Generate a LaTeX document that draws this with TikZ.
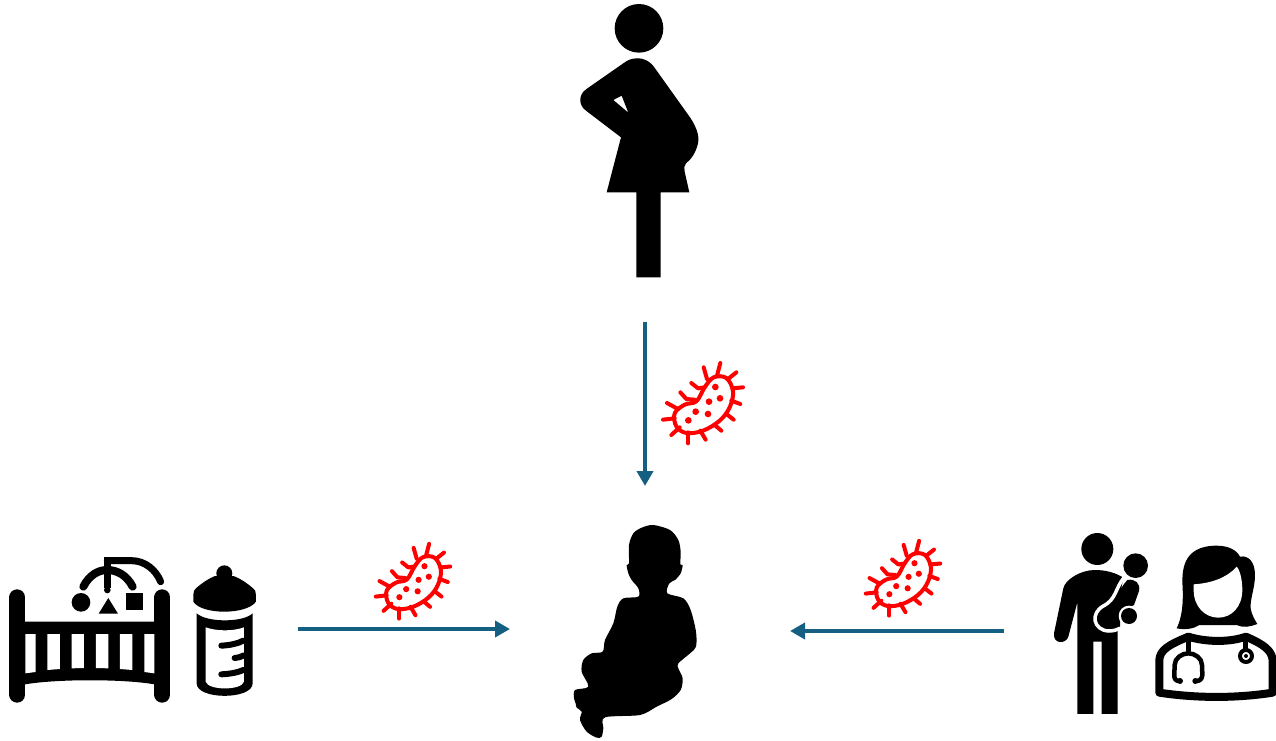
\documentclass[tikz,border=0pt]{standalone}
\usetikzlibrary{arrows.meta}
\definecolor{arrowblue}{HTML}{156082}
\definecolor{germred}{HTML}{FF0000}
\tikzset{
  x=1pt,y=-1pt,
  flow/.style={draw=arrowblue,line width=4pt,-{Triangle[length=15pt,width=16pt]}},
  ink/.style={fill=black,draw=none},
  inkline/.style={draw=black,line cap=round,line join=round},
  blank/.style={fill=white,draw=none},
  germ/.style={draw=germred,line width=4pt,line cap=round,line join=round},
  zoomed/.style={scale=0.3333},
  pics/bacterium/.style={code={
    \draw[germ] plot[smooth cycle,tension=0.6] coordinates {(-85,28)(-55,2)(-20,-8)(5,-50)(32,-80)(70,-78)(90,-38)(80,10)(50,50)(0,80)(-50,87)(-80,67)};
    \foreach \a/\b/\c/\d in {52/-123/42/-85, 2/-110/12/-75, 100/-95/75/-75, 120/-50/88/-47, 112/0/85/-10, 92/47/70/30, 55/80/35/63, 8/107/-8/80, -45/118/-45/85, -95/93/-70/70, -120/47/-85/43, -108/-3/-75/15}
      \draw[germ] (\a,\b) -- (\c,\d);
    \draw[germ] (-68,-35) -- (-50,-15) -- (-25,-13);
    \draw[germ] (-35,-63) -- (-15,-47) -- (5,-50);
    \foreach \a/\b in {37/-51, 51/-17, 18/-7, -22/23, 15/30, -44/49}
      \fill[germred] (\a,\b) circle (10);
  }}
}
\begin{document}
\begin{tikzpicture}
\useasboundingbox (0,0) rectangle (1276,740);
% ---- pregnant woman
\begin{scope}[shift={(560,0)},zoomed]
\fill[ink] (237,85) circle (73);
\fill[ink,even odd rule] (232,175) .. controls (255,175) and (272,185) .. (285,205) -- (385,345)
  .. controls (405,372) and (420,405) .. (414,430) .. controls (408,458) and (392,480) .. (378,490)
  .. controls (372,497) and (372,505) .. (374,515) -- (388,577) -- (302,577) -- (302,832) -- (229,832) -- (229,577) -- (140,577) -- (183,412) -- (78,332)
  .. controls (55,315) and (55,285) .. (78,268) -- (190,190) .. controls (203,180) and (215,175) .. (232,175) -- cycle
  (160,300) -- (185,287) -- (205,338) -- cycle;
\end{scope}
\coordinate (mothertap) at (645,322);
\coordinate (babytop) at (645,486);
% ---- crib
\begin{scope}[shift={(0,540)},zoomed]
\draw[inkline,line width=16pt] (52,172) -- (52,464) (487,172) -- (487,464);
\fill[ink] (52,245) -- (487,245) -- (487,438) .. controls (400,415) and (140,415) .. (52,438) -- cycle;
\foreach \l/\r/\bl/\br in {76/107/400/396, 142/180/390/387, 215/252/385/384, 288/325/384/385, 360/397/387/390, 433/463/396/400}
  \fill[blank] (\l,282) -- (\r,282) -- (\r,\br) -- (\l,\bl) -- cycle;
\draw[inkline,line width=8pt] (250,140) .. controls (268,105) and (295,90) .. (322,90) .. controls (350,90) and (380,105) .. (398,140);
\draw[inkline,line width=6.5pt,line cap=butt] (322,52) -- (322,145);
\fill[ink] (322,150) circle (10);
\draw[inkline,line width=7pt,line cap=round] (322,62) -- (395,62) .. controls (435,62) and (468,90) .. (482,125);
\fill[ink] (243,187) circle (28);
\fill[ink] (296,221) -- (354,221) -- (325,174) -- cycle;
\fill[ink] (379,160) rectangle (428,209);
% bottle
\fill[ink] (673,100) circle (24);
\fill[ink] (645,108) -- (701,108) .. controls (722,116) and (742,130) .. (757,143) .. controls (765,147) and (768,155) .. (768,165) -- (768,185)
  .. controls (740,225) and (605,225) .. (580,185) -- (580,165) .. controls (580,155) and (583,147) .. (590,143) .. controls (605,130) and (625,116) .. (645,108) -- cycle;
\fill[ink] (590,220) .. controls (620,248) and (730,248) .. (758,220) -- (758,430) .. controls (758,480) and (590,480) .. (590,430) -- cycle;
\fill[blank] (617,262) .. controls (650,274) and (700,274) .. (732,262) -- (732,425) .. controls (725,452) and (625,452) .. (617,425) -- cycle;
\draw[inkline,line width=6pt] (664,317) .. controls (690,316) and (715,310) .. (730,302);
\draw[inkline,line width=6pt] (704,354) .. controls (715,353) and (725,350) .. (732,346);
\draw[inkline,line width=6pt] (664,403) .. controls (690,402) and (715,397) .. (730,390);
\end{scope}
\coordinate (cribtap) at (298,629);
\coordinate (babyleft) at (510,629);
% ---- parent with child
\begin{scope}[shift={(1040,525)},zoomed]
\fill[ink] (172,72) circle (48);
\fill[ink] (287,122) circle (37);
\fill[ink] (165,135) .. controls (195,135) and (225,142) .. (250,158) -- (233,250) -- (233,567) -- (185,567) -- (185,350) -- (160,350) -- (160,567) -- (112,567) -- (112,232) -- (85,335)
  .. controls (78,358) and (38,358) .. (42,325) -- (70,190) .. controls (75,165) and (120,135) .. (165,135) -- cycle;
\fill[ink] (262,165) .. controls (285,160) and (302,175) .. (297,198) -- (282,240) -- (240,262) -- (240,305) .. controls (225,312) and (210,312) .. (200,308)
  .. controls (165,295) and (170,262) .. (195,248) .. controls (225,232) and (235,195) .. (262,165) -- cycle;
\draw[white,line width=3.5pt,line cap=round] (252,158) .. controls (225,190) and (230,222) .. (190,243) .. controls (150,265) and (160,315) .. (205,318) .. controls (220,318) and (230,315) .. (240,310);
\fill[white] (267,273) circle (31);
\fill[ink] (267,273) circle (24);
% ---- doctor
\draw[inkline,line width=8pt,fill=white] (358,503) -- (358,405) .. controls (360,375) and (385,360) .. (445,335) .. controls (500,352) and (570,352) .. (618,335) .. controls (670,358) and (695,375) .. (698,405) -- (698,503) .. controls (590,520) and (470,520) .. (358,503) -- cycle;
\fill[ink] (530,62) .. controls (565,62) and (590,75) .. (600,95) .. controls (625,90) and (645,110) .. (645,150) .. controls (645,190) and (630,220) .. (632,250) .. controls (635,270) and (645,285) .. (652,297)
 .. controls (630,305) and (610,310) .. (590,300) -- (478,300) .. controls (460,312) and (435,315) .. (410,310) .. controls (425,280) and (430,240) .. (428,190) .. controls (425,140) and (425,62) .. (530,62) -- cycle;
\fill[blank] (461,178) .. controls (510,175) and (560,160) .. (590,125) .. controls (600,135) and (607,165) .. (607,195) .. controls (607,245) and (575,278) .. (535,278) .. controls (495,278) and (461,245) .. (461,195) -- cycle;
\fill[blank] (490,304) -- (578,304) .. controls (572,318) and (560,322) .. (534,322) .. controls (508,322) and (496,318) .. (490,304) -- cycle;
\draw[black,line width=5pt,line cap=butt] (445,335) -- (445,388);
\draw[black,line width=4.5pt,line cap=round,line join=round] (418,468) .. controls (395,468) and (405,440) .. (404,420) .. controls (404,400) and (425,385) .. (445,385) .. controls (465,385) and (486,400) .. (486,420) .. controls (485,440) and (495,468) .. (468,468);
\fill[ink] (420,468) circle (9) (466,468) circle (9);
\draw[black,line width=5pt,line cap=butt] (618,335) -- (618,375);
\draw[black,line width=4pt,fill=white] (618,393) circle (18);
\fill[ink] (618,393) circle (6);
\end{scope}
\coordinate (caretap) at (1004,631);
\coordinate (babyright) at (790,631);
% ---- baby
\begin{scope}[shift={(560,515)},zoomed]
\fill[ink] plot[smooth cycle,tension=0.5] coordinates {(280,30)(330,45)(355,75)(362,110)(361,148)(368,150)(362,175)(345,195)(328,205)(322,235)(370,250)(392,285)(408,350)(408,395)(390,415)(355,445)(355,460)(368,490)(362,525)(335,552)(290,575)(240,600)(135,607)(130,640)(125,665)(110,668)(80,650)(60,615)(65,590)(50,578)(47,565)(42,550)(45,525)(85,515)(65,470)(70,435)(95,415)(128,410)(135,375)(160,325)(172,275)(190,250)(235,245)(235,220)(215,195)(205,175)(200,150)(207,145)(207,90)(220,55)(245,38)};
\end{scope}
% ---- connectors
\draw[flow] (mothertap) -- (babytop);
\draw[flow] (cribtap) -- (babyleft);
\draw[flow] (caretap) -- (babyright);
% ---- germs
\pic[scale=0.3333] at (703,404) {bacterium};
\pic[scale=0.31] at (413,582) {bacterium};
\pic[scale=0.31] at (903,579) {bacterium};
\end{tikzpicture}
\end{document}
